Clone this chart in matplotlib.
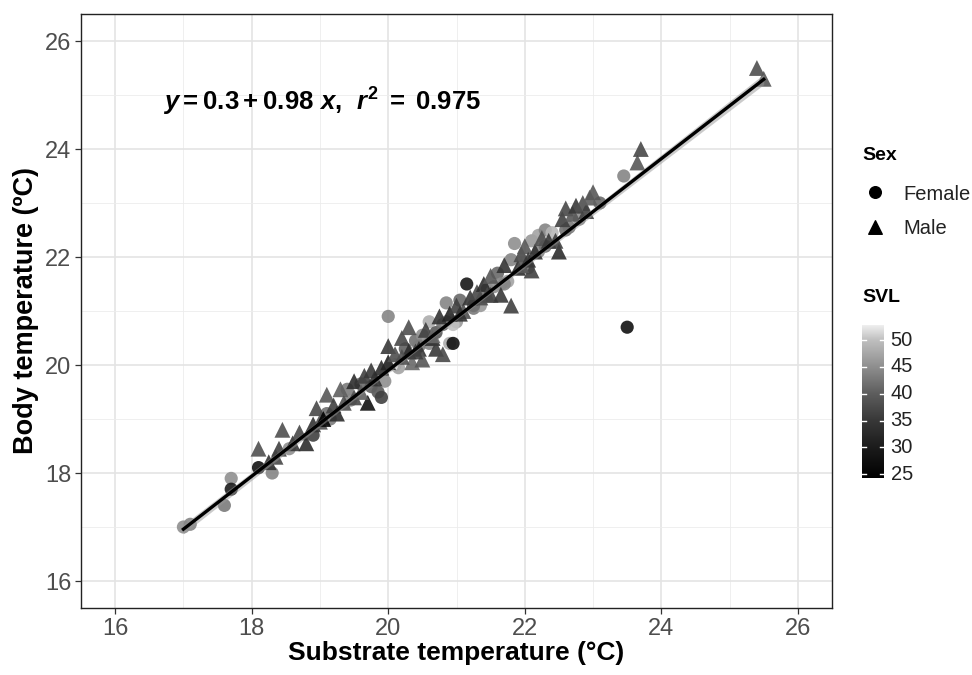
import matplotlib
matplotlib.use("Agg")
import matplotlib.pyplot as plt
import numpy as np
from matplotlib.colors import LinearSegmentedColormap, Normalize

plt.rcParams['font.family'] = ['Liberation Sans', 'DejaVu Sans']
plt.rcParams['mathtext.fontset'] = 'custom'
plt.rcParams['mathtext.rm'] = 'Liberation Sans:bold'
plt.rcParams['mathtext.it'] = 'Liberation Sans:bold:italic'
plt.rcParams['mathtext.bf'] = 'Liberation Sans:bold'

# ---- data ----
substrate = [17.0, 17.1, 17.6, 17.7, 17.7, 18.1, 18.3, 18.1, 18.35, 18.4, 18.45, 18.6, 18.7, 18.8,
             18.9, 18.9, 18.95, 19.0, 19.1, 19.1, 19.15, 19.2, 19.3, 19.35, 19.4, 19.5, 19.5, 19.6,
             19.65, 19.7, 19.75, 19.8, 19.85, 19.9, 19.9, 19.95, 20.0, 20.0, 20.0, 20.1, 20.1, 20.15,
             20.2, 20.25, 20.3, 20.3, 20.35, 20.4, 20.45, 20.5, 20.5, 20.55, 20.6, 20.6, 20.65, 20.7,
             20.7, 20.75, 20.8, 20.8, 20.85, 20.9, 20.9, 20.95, 21.0, 21.0, 21.05, 21.1, 21.15, 21.2,
             21.25, 21.3, 21.35, 21.4, 21.45, 21.5, 21.5, 21.55, 21.6, 21.65, 21.7, 21.75, 21.8, 21.8,
             21.85, 21.9, 21.95, 22.0, 22.05, 22.1, 22.1, 22.15, 22.2, 22.25, 22.3, 22.35, 22.4, 22.5,
             22.55, 22.6, 22.65, 22.7, 22.75, 22.8, 22.85, 22.9, 22.95, 23.0, 23.1, 23.45, 23.5, 23.65,
             23.7, 25.4, 25.5,
             19.05, 19.45, 19.6, 20.05, 20.2, 20.45, 20.65, 20.85, 21.05, 21.25, 21.45, 21.65, 21.95,
             22.2, 22.45, 22.6, 18.25, 18.55, 19.25, 19.75, 20.4, 20.95, 21.35, 21.7, 22.05, 22.3]
body = [17.0, 17.05, 17.4, 17.9, 17.7, 18.1, 18.0, 18.45, 18.3, 18.45, 18.8, 18.55, 18.75, 18.55,
        18.7, 18.9, 19.2, 18.95, 19.1, 19.45, 19.0, 19.25, 19.55, 19.3, 19.55, 19.4, 19.7, 19.65,
        19.8, 19.3, 19.9, 19.75, 19.5, 19.4, 19.95, 19.7, 20.9, 20.35, 20.05, 20.0, 20.2, 19.95,
        20.5, 20.3, 20.7, 20.25, 20.05, 20.45, 20.3, 20.55, 20.1, 20.65, 20.8, 20.4, 20.5, 20.6,
        20.3, 20.9, 20.2, 20.75, 21.15, 20.4, 20.95, 20.4, 21.1, 20.8, 21.2, 21.0, 21.5, 21.25,
        21.05, 21.35, 21.1, 21.5, 21.4, 21.65, 21.3, 21.45, 21.7, 21.3, 21.85, 21.55, 21.1, 21.95,
        22.25, 21.8, 22.05, 22.2, 21.8, 21.75, 22.3, 22.1, 22.4, 22.35, 22.5, 22.3, 22.45, 22.1,
        22.7, 22.9, 22.55, 22.8, 22.95, 22.7, 23.0, 22.85, 23.1, 23.2, 23.0, 23.5, 20.7, 23.75,
        24.0, 25.5, 25.3,
        19.0, 19.35, 19.5, 20.0, 20.15, 20.35, 20.55, 20.8, 20.95, 21.1, 21.3, 21.5, 21.85,
        22.1, 22.3, 22.5, 18.2, 18.45, 19.1, 19.6, 20.25, 20.75, 21.25, 21.5, 21.95, 22.2]
sex = ['F', 'F', 'F', 'F', 'F', 'F', 'F', 'M', 'M', 'M', 'M', 'M', 'M', 'M',
       'F', 'M', 'M', 'M', 'F', 'M', 'F', 'M', 'M', 'M', 'F', 'M', 'M', 'F',
       'M', 'M', 'M', 'M', 'F', 'F', 'M', 'F', 'F', 'M', 'M', 'F', 'M', 'F',
       'M', 'F', 'M', 'M', 'M', 'F', 'M', 'F', 'M', 'M', 'F', 'F', 'M', 'F',
       'M', 'M', 'M', 'F', 'F', 'F', 'M', 'F', 'M', 'F', 'F', 'M', 'F', 'M',
       'F', 'M', 'F', 'M', 'F', 'M', 'M', 'F', 'F', 'M', 'M', 'F', 'M', 'F',
       'F', 'M', 'M', 'M', 'F', 'M', 'F', 'M', 'F', 'M', 'F', 'M', 'F', 'M',
       'M', 'M', 'F', 'M', 'M', 'F', 'M', 'M', 'M', 'M', 'F', 'F', 'F', 'M',
       'M', 'M', 'M',
       'M', 'F', 'M', 'F', 'M', 'F', 'M', 'F', 'M', 'F', 'M', 'F', 'M',
       'F', 'M', 'F', 'M', 'F', 'M', 'F', 'M', 'F', 'M', 'F', 'M', 'F']
svl = [45, 44, 43, 45, 30, 28, 44, 38, 37, 36, 38, 35, 37, 33,
       36, 34, 37, 38, 42, 39, 43, 36, 40, 38, 43, 37, 33, 41,
       36, 28, 35, 34, 39, 36, 33, 45, 44, 35, 31, 46, 38, 47,
       37, 40, 38, 33, 41, 42, 34, 45, 39, 36, 48, 44, 33, 39,
       35, 34, 37, 42, 44, 48, 31, 28, 36, 46, 41, 38, 29, 35,
       43, 37, 46, 33, 42, 39, 36, 45, 41, 35, 34, 47, 36, 44,
       45, 33, 37, 39, 42, 36, 46, 34, 47, 38, 44, 35, 49, 33,
       36, 37, 43, 39, 35, 45, 38, 36, 40, 39, 41, 44, 28, 39,
       37, 38, 39,
       25, 44, 40, 52, 38, 43, 41, 46, 34, 42, 37, 45, 39,
       44, 36, 42, 34, 45, 33, 40, 36, 50, 38, 44, 35, 42]

intercept = 0.3
slope = 0.98
fit_x = [17.0, 25.5]

x_ticks = [16, 18, 20, 22, 24, 26]
y_ticks = [16, 18, 20, 22, 24, 26]
svl_ticks = [25, 30, 35, 40, 45, 50]

# ---- figure ----
W, H = 972, 675
fig = plt.figure(figsize=(W / 100, H / 100), dpi=100)
ax = fig.add_axes([81 / W, 1 - 608 / H, (832 - 81) / W, (608 - 14) / H])

cmap = LinearSegmentedColormap.from_list(
    'svl', [(0.0, '#000000'), (0.2, '#1c1c1c'), (0.375, '#383838'), (0.55, '#5e5e5e'),
            (0.725, '#8f8f8f'), (0.9, '#c0c0c0'), (1.0, '#f2f2f2')])
norm = Normalize(vmin=24.3, vmax=52.8)

xs = np.array(substrate)
ys = np.array(body)
ss = np.array(sex)
vs = np.array(svl)

ax.set_xlim(15.5, 26.5)
ax.set_ylim(15.5, 26.5)
ax.set_xticks(x_ticks)
ax.set_yticks(y_ticks)
ax.set_xticks(np.arange(17, 27, 2), minor=True)
ax.set_yticks(np.arange(17, 27, 2), minor=True)
ax.grid(which='major', color='#e4e4e4', linewidth=1.2)
ax.grid(which='minor', color='#ececec', linewidth=0.6)
ax.tick_params(which='minor', length=0)
ax.tick_params(which='major', length=4, width=0.9, color='#333333', labelcolor='#4d4d4d',
               labelsize=17, pad=3)
ax.set_axisbelow(True)
for sp in ax.spines.values():
    sp.set_color('#222222')
    sp.set_linewidth(1.0)

fem = ss == 'F'
mal = ss == 'M'
ax.scatter(xs[fem], ys[fem], c=vs[fem], cmap=cmap, norm=norm, marker='o', s=90,
           linewidths=0, alpha=0.9, zorder=3)
ax.scatter(xs[mal], ys[mal], c=vs[mal], cmap=cmap, norm=norm, marker='^', s=130,
           linewidths=0, alpha=0.9, zorder=3)

lx = np.linspace(fit_x[0], fit_x[1], 50)
ly = intercept + slope * lx
band = 0.04 + 0.012 * np.abs(lx - 20.8)
ax.fill_between(lx, ly - band, ly + band, color='#999999', alpha=0.5, linewidth=0, zorder=4)
ax.plot(lx, ly, color='black', linewidth=2.4, zorder=5)

ax.text(16.7, 24.87, r'$y = 0.3 + 0.98\ x,\;\, r^2\;{=}\;0.975$', fontsize=18.5, va='center',
        ha='left', color='black')

ax.set_xlabel('Substrate temperature (°C)', fontsize=19, fontweight='bold', labelpad=1)
ax.set_ylabel('Body temperature (ºC)', fontsize=19.5, fontweight='bold', labelpad=4)

# ---- legends ----
ov = fig.add_axes([0, 0, 1, 1], facecolor='none')
ov.set_xlim(0, W)
ov.set_ylim(H, 0)
ov.axis('off')
ov.text(862, 156, 'Sex', fontsize=14, fontweight='bold', va='center', ha='left')
ov.scatter([875], [192], marker='o', s=70, color='black')
ov.scatter([875], [227], marker='^', s=95, color='black')
ov.text(903, 194, 'Female', fontsize=14.5, va='center', ha='left', color='#222222')
ov.text(903, 228, 'Male', fontsize=14.5, va='center', ha='left', color='#222222')
ov.text(862, 298, 'SVL', fontsize=14, fontweight='bold', va='center', ha='left')

cax = fig.add_axes([862 / W, 1 - 478 / H, 22 / W, 153 / H])
grad = np.linspace(norm.vmin, norm.vmax, 256).reshape(-1, 1)
cax.imshow(grad, aspect='auto', cmap=cmap, norm=norm, origin='lower',
           extent=[0, 1, norm.vmin, norm.vmax])
cax.set_xlim(0, 1)
cax.set_ylim(norm.vmin, norm.vmax)
cax.set_xticks([])
cax.set_yticks([])
for sp in cax.spines.values():
    sp.set_visible(False)
for t in svl_ticks:
    cax.plot([0, 0.2], [t, t], color='white', linewidth=1.0)
    cax.plot([0.8, 1.0], [t, t], color='white', linewidth=1.0)
    cax.text(1.3, t, str(t), transform=cax.transData, fontsize=14.5, va='center', ha='left',
             color='#222222')

fig.savefig('out.png', dpi=100)
